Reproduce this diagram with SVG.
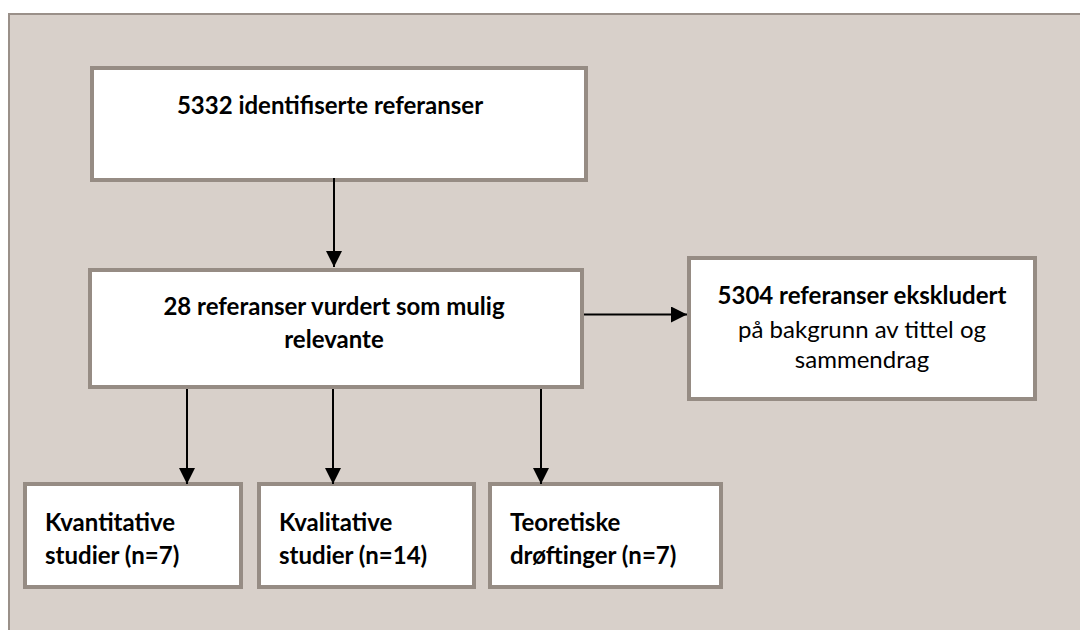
<svg xmlns="http://www.w3.org/2000/svg" width="1080" height="630" viewBox="0 0 1080 630">
  <defs>
    <marker id="arrow" viewBox="0 0 10 10" refX="10" refY="5" markerWidth="8" markerHeight="8" markerUnits="strokeWidth" orient="auto">
      <path d="M0,0 L10,5 L0,10 z" fill="#000"/>
    </marker>
    <style>
      .panel { fill: #D8D0CA; stroke: #9A9089; stroke-width: 2; }
      .box { fill: #FFFFFF; stroke: #968C84; stroke-width: 4; }
      .conn { stroke: #000; stroke-width: 2; fill: none; marker-end: url(#arrow); }
      text { font-family: Lato, "Open Sans", "Liberation Sans", sans-serif; font-size: 24px; fill: #000; }
      .b { font-weight: bold; }
      .c { text-anchor: middle; }
    </style>
  </defs>
  <rect x="0" y="0" width="1080" height="630" fill="#FFFFFF"/>
  <rect class="panel" x="9" y="14" width="1090" height="640"/>

  <g id="node-identified">
    <rect class="box" x="92" y="68" width="494" height="112"/>
    <text class="b c" x="330" y="114">5332 identifiserte referanser</text>
  </g>
  <g id="node-relevant">
    <rect class="box" x="90" y="270" width="492" height="117"/>
    <text class="b c" x="334" y="315">28 referanser vurdert som mulig</text>
    <text class="b c" x="334" y="348">relevante</text>
  </g>
  <g id="node-excluded">
    <rect class="box" x="689" y="258" width="346" height="141"/>
    <text class="b c" x="862" y="304">5304 referanser ekskludert</text>
    <text class="c" x="862" y="338">på bakgrunn av tittel og</text>
    <text class="c" x="862" y="368">sammendrag</text>
  </g>
  <g id="node-quant">
    <rect class="box" x="25" y="484" width="216" height="103"/>
    <text class="b" x="45" y="531">Kvantitative</text>
    <text class="b" x="45" y="564">studier (n=7)</text>
  </g>
  <g id="node-qual">
    <rect class="box" x="259" y="484" width="215" height="103"/>
    <text class="b" x="279" y="531">Kvalitative</text>
    <text class="b" x="279" y="564">studier (n=14)</text>
  </g>
  <g id="node-theory">
    <rect class="box" x="490" y="484" width="231" height="103"/>
    <text class="b" x="510" y="531">Teoretiske</text>
    <text class="b" x="510" y="564">drøftinger (n=7)</text>
  </g>

  <g id="connectors">
    <line class="conn" x1="334" y1="178" x2="334" y2="267"/>
    <line class="conn" x1="584" y1="314.5" x2="687" y2="314.5"/>
    <line class="conn" x1="187" y1="389" x2="187" y2="484"/>
    <line class="conn" x1="333" y1="389" x2="333" y2="484"/>
    <line class="conn" x1="541" y1="389" x2="541" y2="484"/>
  </g>
</svg>
